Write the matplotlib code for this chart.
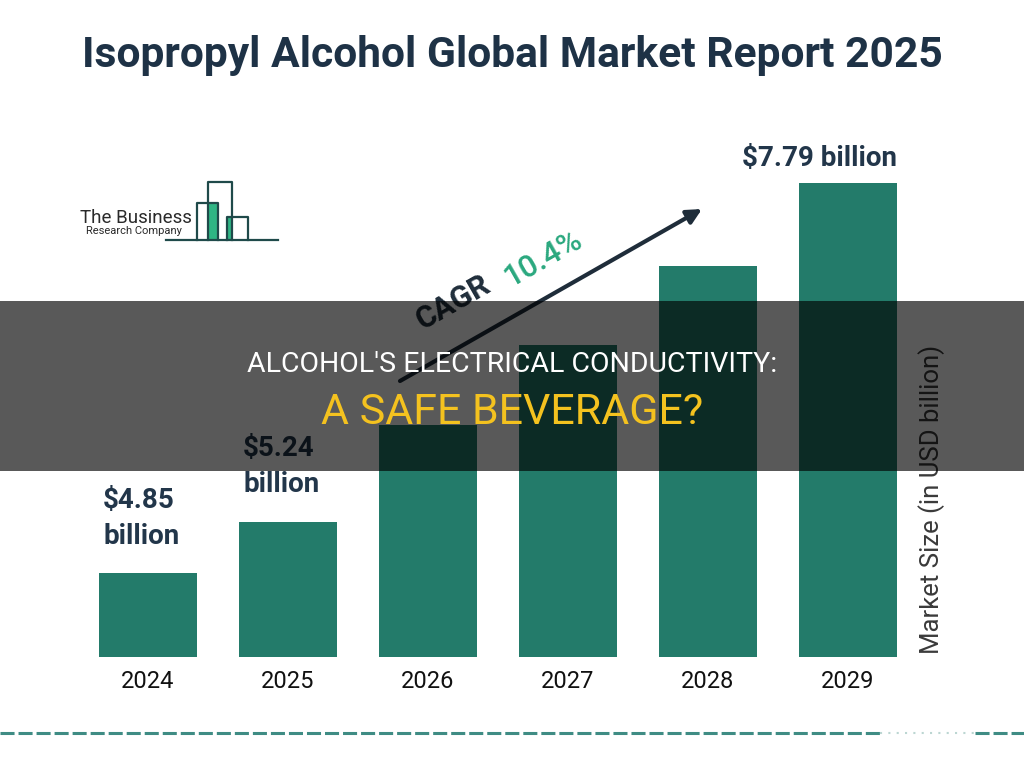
import matplotlib
matplotlib.use("Agg")
import matplotlib.pyplot as plt
from matplotlib.patches import Rectangle

plt.rcParams['font.family'] = ['Roboto', 'DejaVu Sans']

# ---- data ----
years = ["2024", "2025", "2026", "2027", "2028", "2029"]
market_size = [4.85, 5.24, 5.97, 6.57, 7.17, 7.79]   # USD billion (middle bars)
value_labels = ["$4.85\nbillion", "$5.24\nbillion", "", "", "", "$7.79 billion"]
title = "Isopropyl Alcohol Global Market Report 2025"
ylabel = "Market Size (in USD billion)"
cagr_word = "CAGR"
cagr_value = "10.4%"
banner_line1 = "ALCOHOL'S ELECTRICAL CONDUCTIVITY:"
banner_line2 = "A SAFE BEVERAGE?"

BAR = '#237b6a'
DARK = '#22364a'
GREEN = '#2aa87e'

W, H = 1024, 768
fig = plt.figure(figsize=(W / 100, H / 100), dpi=100)
fig.patch.set_facecolor('white')

# main bar axes (pixel box: x 78..918, y 100..657)
ax = fig.add_axes([78 / W, (H - 657) / H, 840 / W, 557 / H])
ax.set_zorder(1)
x = list(range(len(years)))
ax.bar(x, market_size, width=0.7, color=BAR)
ax.set_xlim(-0.5, len(years) - 0.5)
ax.set_ylim(4.22, 8.418)
ax.set_xticks(x)
ax.set_xticklabels(years, fontsize=17, color='#111111')
ax.tick_params(axis='x', length=0, pad=9)
ax.set_yticks([])
for s in ax.spines.values():
    s.set_visible(False)
ax.patch.set_alpha(0)

for i, (v, lab) in enumerate(zip(market_size, value_labels)):
    if not lab:
        continue
    if "\n" in lab:
        ax.annotate(lab, xy=(i - 0.35, v), xytext=(3, 17), textcoords='offset points',
                    ha='left', va='bottom', fontsize=20, fontweight='bold',
                    color=DARK, linespacing=1.42)
    else:
        ax.annotate(lab, xy=(i + 0.35, v), xytext=(0, 8), textcoords='offset points',
                    ha='right', va='bottom', fontsize=20, fontweight='bold', color=DARK)

ax.text((932 - 78) / 840, (H - 499 - 111) / 557, ylabel, transform=ax.transAxes,
        rotation=90, ha='center', va='center', fontsize=18.5, color='#3a3a3a')

# overlay axes in pixel coordinates for decorations
ov = fig.add_axes([0, 0, 1, 1])
ov.set_zorder(2)
ov.set_xlim(0, W)
ov.set_ylim(H, 0)
ov.axis('off')
ov.patch.set_alpha(0)

ov.text(512, 55, title, ha='center', va='center', fontsize=30.7,
        fontweight='bold', color='#1e3246')

# logo
logo_c = '#1f4a4a'
logo_g = '#2fb584'
ov.add_patch(Rectangle((209, 203), 7.5, 37, color=logo_g, lw=0, zorder=2))
ov.add_patch(Rectangle((226.7, 216.7), 5, 23.3, color=logo_g, lw=0, zorder=2))
ov.plot([166, 278], [240, 240], color=logo_c, lw=1.6, zorder=3)
ov.plot([207.7, 207.7, 232.3, 232.3], [240, 182.3, 182.3, 240], color=logo_c, lw=1.6, zorder=3)
ov.plot([196.7, 196.7, 218.3, 218.3], [240, 203.3, 203.3, 240], color=logo_c, lw=1.6, zorder=3)
ov.plot([226.7, 226.7, 247.7, 247.7], [240, 216.7, 216.7, 240], color=logo_c, lw=1.6, zorder=3)
ov.text(80, 223, "The Business", ha='left', va='baseline', fontsize=13.5, color='#2a2a2a')
ov.text(86, 234, "Research Company", ha='left', va='baseline', fontsize=8, color='#2a2a2a')

# CAGR arrow and text
ov.annotate('', xy=(702, 209), xytext=(400, 381),
            arrowprops=dict(arrowstyle='-|>', lw=3, color='#1f2d3a',
                            mutation_scale=22, shrinkA=0, shrinkB=0), zorder=2)
ang = 29.7
ov.text(453, 302, cagr_word, rotation=ang, rotation_mode='anchor', ha='center',
        va='center', fontsize=22, fontweight='bold', color='#1f2d3a', zorder=2)
ov.text(543, 259, cagr_value, rotation=ang, rotation_mode='anchor', ha='center',
        va='center', fontsize=22.5, fontweight='medium', color=GREEN, zorder=2)

# bottom dashed line
ov.plot([0, 880], [733, 733], color='#3f8c84', lw=2.2, dashes=(4.6, 1.3), zorder=2)
ov.plot([975, 1024], [733, 733], color='#3f8c84', lw=2.2, dashes=(4.6, 1.3), zorder=2)
ov.plot([880, 975], [733, 733], color='#bcd6d2', lw=1.5, dashes=(1, 3), zorder=2)

# banner overlay
ov.add_patch(Rectangle((0, 301), W, 170, color='black', alpha=0.65, lw=0, zorder=10))
ov.text(512, 364, banner_line1, ha='center', va='center', fontsize=20.5,
        color='white', zorder=11)
ov.text(512, 412, banner_line2, ha='center', va='center', fontsize=31,
        color='#f4c21f', zorder=11)

fig.savefig("out.png", dpi=100)
